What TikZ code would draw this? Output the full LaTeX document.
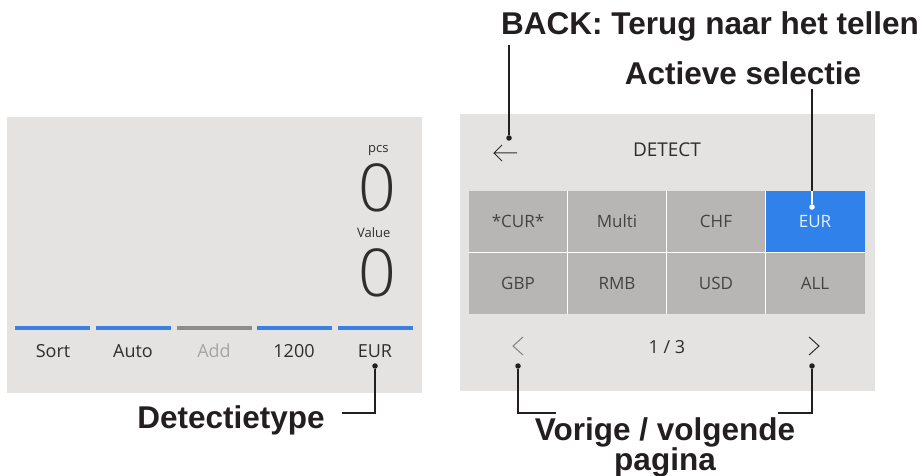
\documentclass[tikz,border=0pt]{standalone}
\usepackage{fontspec}
\setmainfont{Liberation Sans}
\newfontfamily\uifont{Open Sans}
\newfontfamily\uilight{Open Sans Light}
\usetikzlibrary{positioning, calc}

\definecolor{panelgray}{HTML}{E4E3E1}
\definecolor{cellgray}{HTML}{B7B6B4}
\definecolor{selblue}{HTML}{3181EB}
\definecolor{tabblue}{HTML}{3A80E2}
\definecolor{tabgray}{HTML}{8E8C8A}
\definecolor{uidark}{HTML}{2E2E2E}
\definecolor{uidim}{HTML}{A6A5A3}
\definecolor{inkblack}{HTML}{231F20}

\begin{document}
\begin{tikzpicture}[
    x=1pt, y=-1pt,
    % Styles
    panel/.style={
        fill=panelgray,
        draw=none
    },
    uitext/.style={
        font=\uifont\fontsize{18}{20}\selectfont,
        text=uidark,
        anchor=base
    },
    cell/.style={
        rectangle,
        fill=cellgray,
        draw=none,
        minimum width=99pt,
        minimum height=61.5pt,
        inner sep=0pt,
        font=\uifont\fontsize{17}{19}\selectfont,
        text=uidark!90
    },
    callout/.style={
        font=\bfseries\fontsize{31.5}{26}\selectfont,
        text=inkblack,
        anchor=base
    },
    tab/.style={
        line width=4pt,
        draw=tabblue
    },
    leader/.style={
        line width=1.4pt,
        draw=inkblack
    },
    dot/.style={
        circle,
        fill=inkblack,
        inner sep=0pt,
        minimum size=5.5pt
    }
]
    \useasboundingbox (0,0) rectangle (922,476);

    % Panels
    \fill[panel] (7,117) rectangle (422,393);
    \fill[panel] (460,114) rectangle (875,391);

    % Counting screen
    \node[uitext, font=\uifont\fontsize{13}{15}\selectfont, anchor=base east] (pcs) at (392,153) {pcs};
    \node[uitext, font=\uilight\fontsize{66}{66}\selectfont, anchor=base east, inner sep=0pt] (pcszero) at (396,212) {0};
    \node[uitext, font=\uifont\fontsize{13}{15}\selectfont, anchor=base east] (value) at (394,237) {Value};
    \node[uitext, font=\uilight\fontsize{66}{66}\selectfont, anchor=base east, inner sep=0pt] (valuezero) at (396,296) {0};

    \draw[tab] (15,328) -- (90,328);
    \draw[tab] (96,328) -- (171,328);
    \draw[tab, draw=tabgray] (177,328) -- (252,328);
    \draw[tab] (257,328) -- (332,328);
    \draw[tab] (338,328) -- (413,328);

    \node[uitext] (sort) at (53,357) {Sort};
    \node[uitext] (auto) at (133,357) {Auto};
    \node[uitext, text=uidim] (add) at (214,357) {Add};
    \node[uitext] (count) at (294,357) {1200};
    \node[uitext] (eur) at (375,357) {EUR};

    % Detect screen
    \draw[uidark, line width=1pt] (517,153) -- (494,153) -- ++(8,-8) (494,153) -- ++(8,8);
    \node[uitext, font=\uifont\fontsize{19}{21}\selectfont] (title) at (667,157) {DETECT};

    \node[cell] (cur) at (518,221.5) {*CUR*};
    \node[cell] (multi) at (617,221.5) {Multi};
    \node[cell] (chf) at (716,221.5) {CHF};
    \node[cell, fill=selblue, text=white!88!selblue] (eurcell) at (815,221.5) {EUR};
    \node[cell] (gbp) at (518,283) {GBP};
    \node[cell] (rmb) at (617,283) {RMB};
    \node[cell] (usd) at (716,283) {USD};
    \node[cell] (all) at (815,283) {ALL};
    \draw[white, line width=1pt] (cur.north east) -- (gbp.south east)
        (multi.north east) -- (rmb.south east)
        (chf.north east) -- (usd.south east)
        (cur.south west) -- (eurcell.south east);

    \draw[uidark!60, line width=1pt] (523,337) -- (513,346) -- (523,355);
    \node[uitext] (page) at (667,353) {1 / 3};
    \draw[uidark, line width=1pt] (809,337) -- (819,346) -- (809,355);

    % Callouts
    \node[callout] (detecttype) at (231,428) {Detectietype};
    \node[callout] (back) at (710,35) {BACK: Terug naar het tellen};
    \node[callout] (active) at (743,85) {Actieve selectie};
    \node[callout, align=center, anchor=north, inner sep=0pt] (pages) at (665,417) {Vorige / volgende\\pagina};

    \node[dot] (eurdot) at (375,366) {};
    \node[dot] (backdot) at (509,138) {};
    \node[dot, fill=white] (seldot) at (812,207) {};
    \node[dot] (prevdot) at (518,366) {};
    \node[dot] (nextdot) at (812,366) {};

    \coordinate (detectend) at (342,413);
    \coordinate (prevend) at (556,413);
    \coordinate (nextend) at (778,413);

    % Paths
    \draw[leader] (eurdot) |- (detectend);
    \draw[leader] (backdot) -- (backdot |- back.south);
    \draw[leader] (seldot |- active.south) -- (seldot |- eurcell.north);
    \draw[leader, draw=white] (seldot |- eurcell.north) -- (seldot);
    \draw[leader] (prevdot) |- (prevend);
    \draw[leader] (nextdot) |- (nextend);
\end{tikzpicture}
\end{document}
